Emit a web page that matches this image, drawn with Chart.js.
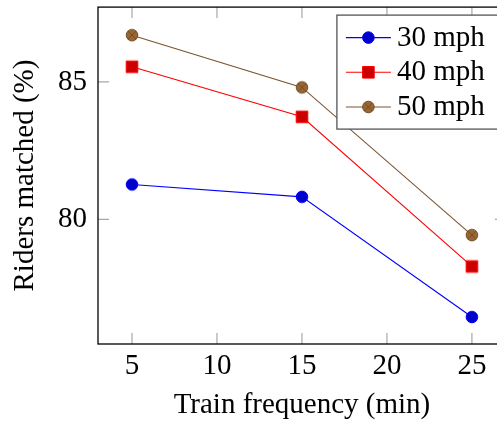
<!DOCTYPE html>
<html>
<head>
<meta charset="utf-8">
<script src="https://cdn.jsdelivr.net/npm/chart.js@4.4.0/dist/chart.umd.min.js"></script>
<style>
  html, body { margin: 0; padding: 0; background: #fff; overflow: hidden; }
  #wrap { width: 513px; height: 423px; }
</style>
</head>
<body>
<div id="wrap"><canvas id="chart" width="513" height="423"></canvas></div>
<script>
// data
const trainFreq = [ 5, 15, 25 ];
const matched30 = [ 81.27, 80.82, 76.45 ];
const matched40 = [ 85.55, 83.73, 78.29 ];
const matched50 = [ 86.70, 84.80, 79.43 ];
const seriesLabels = [ '30 mph', '40 mph', '50 mph' ];
const xTicks = [ 5, 10, 15, 20, 25 ];
const yTicks = [ 80, 85 ];

const serif = '"Liberation Serif", "Times New Roman", serif';
const fontSize = 29;

// marker styles (pgfplots-like)
const styles = [
	{ kind: 'circle', line: '#0000ff', fill: '#0000cc', stroke: '#0000ff' },
	{ kind: 'square', line: '#ff0000', fill: '#cc0000', stroke: '#ff0000' },
	{ kind: 'otimes', line: '#7a5530', fill: '#996633', stroke: '#734d26' },
];

function drawMarker( ctx, st, cx, cy ) {
	const r = 5.8;
	ctx.save();
	ctx.fillStyle = st.fill;
	ctx.strokeStyle = st.stroke;
	ctx.lineWidth = 1;
	ctx.beginPath();
	if ( st.kind === 'square' ) {
		ctx.rect( cx - r, cy - r, 2 * r, 2 * r );
	} else {
		ctx.arc( cx, cy, r, 0, Math.PI * 2 );
	}
	ctx.fill();
	ctx.stroke();
	if ( st.kind === 'otimes' ) {
		const d = r * 0.7071;
		ctx.beginPath();
		ctx.moveTo( cx - d, cy - d );
		ctx.lineTo( cx + d, cy + d );
		ctx.moveTo( cx + d, cy - d );
		ctx.lineTo( cx - d, cy + d );
		ctx.stroke();
	}
	ctx.restore();
}

function markerImage( st ) {
	const c = document.createElement( 'canvas' );
	c.width = 16;
	c.height = 16;
	drawMarker( c.getContext( '2d' ), st, 8, 8 );
	return c;
}

// frame, inward ticks and legend box
const framePlugin = {
	id: 'frame',
	afterDatasetsDraw( chart ) {
		const { ctx, chartArea: a } = chart;
		const x = chart.scales.x;
		const y = chart.scales.y;
		ctx.save();
		ctx.strokeStyle = '#a8a8a8';
		ctx.lineWidth = 1.2;
		ctx.beginPath();
		xTicks.forEach( v => {
			const px = x.getPixelForValue( v );
			ctx.moveTo( px, a.bottom );
			ctx.lineTo( px, a.bottom - 11 );
			ctx.moveTo( px, a.top );
			ctx.lineTo( px, a.top + 11 );
		} );
		yTicks.forEach( v => {
			const py = y.getPixelForValue( v );
			ctx.moveTo( a.left, py );
			ctx.lineTo( a.left + 11, py );
			ctx.moveTo( a.right, py );
			ctx.lineTo( a.right - 11, py );
		} );
		ctx.stroke();

		ctx.strokeStyle = '#000';
		ctx.lineWidth = 1.3;
		ctx.strokeRect( a.left, a.top, a.right - a.left, a.bottom - a.top );

		// legend
		const lx = a.right - 169;
		const ly = a.top + 8;
		ctx.fillStyle = '#fff';
		ctx.fillRect( lx, ly, 162, 114 );
		ctx.strokeStyle = '#555';
		ctx.lineWidth = 1.3;
		ctx.strokeRect( lx, ly, 162, 114 );
		ctx.font = fontSize + 'px ' + serif;
		ctx.textBaseline = 'alphabetic';
		seriesLabels.forEach( ( label, i ) => {
			const ry = ly + 22.5 + i * 34.7;
			ctx.strokeStyle = styles[ i ].line;
			ctx.lineWidth = 1.1;
			ctx.beginPath();
			ctx.moveTo( lx + 9, ry );
			ctx.lineTo( lx + 54, ry );
			ctx.stroke();
			drawMarker( ctx, styles[ i ], lx + 31.5, ry );
			ctx.fillStyle = '#000';
			ctx.fillText( label, lx + 60, ry + 8 );
		} );
		ctx.restore();
	},
};

const seriesData = [ matched30, matched40, matched50 ];

function noPad( s ) {
	s.paddingTop = 0;
	s.paddingBottom = 0;
	s.paddingLeft = 0;
	s.paddingRight = 0;
}

new Chart( document.getElementById( 'chart' ), {
	type: 'line',
	data: {
		datasets: seriesData.map( ( vals, i ) => ( {
			label: seriesLabels[ i ],
			data: trainFreq.map( ( f, j ) => ( { x: f, y: vals[ j ] } ) ),
			borderColor: styles[ i ].line,
			borderWidth: 1.1,
			pointStyle: markerImage( styles[ i ] ),
			pointRadius: 6,
			tension: 0,
			clip: false,
		} ) ),
	},
	options: {
		responsive: false,
		animation: false,
		layout: { padding: { top: 7, right: 5, left: 0, bottom: 0 } },
		plugins: {
			legend: { display: false },
			tooltip: { enabled: false },
		},
		scales: {
			x: {
				type: 'linear',
				min: 3,
				max: 27,
				afterBuildTicks: s => {
					s.ticks = xTicks.map( v => ( { value: v } ) );
				},
				afterFit: s => {
					s.height = 79;
					noPad( s );
				},
				grid: { display: false, drawTicks: false },
				border: { display: false },
				ticks: { color: '#000', padding: 5, maxRotation: 0, font: { family: serif, size: fontSize } },
				title: {
					display: true,
					text: 'Train frequency (min)',
					color: '#000',
					font: { family: serif, size: fontSize },
					padding: { top: 0, bottom: 0 },
				},
			},
			y: {
				type: 'linear',
				min: 75.47,
				max: 87.72,
				afterBuildTicks: s => {
					s.ticks = yTicks.map( v => ( { value: v } ) );
				},
				afterFit: s => {
					s.width = 98;
					noPad( s );
				},
				grid: { display: false, drawTicks: false },
				border: { display: false },
				ticks: { color: '#000', padding: 11, font: { family: serif, size: fontSize } },
				title: {
					display: true,
					text: 'Riders matched (%)',
					color: '#000',
					font: { family: serif, size: fontSize },
					padding: { top: 8, bottom: 0 },
				},
			},
		},
	},
	plugins: [ framePlugin ],
} );
</script>
</body>
</html>
